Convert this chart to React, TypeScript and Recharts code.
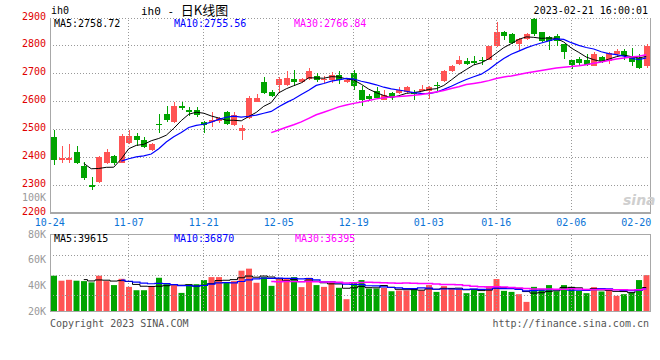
import { ComposedChart, Bar, Line, XAxis, YAxis, CartesianGrid, ReferenceLine, Cell } from 'recharts'

const MONO = '"DejaVu Sans Mono", "Liberation Mono", monospace'
const CJK = '"Noto Sans CJK SC", sans-serif'
const RED = '#ff5454'
const GREEN = '#00a400'
const GRID = '#999999'
const FRAME = '#a8a8a8'

// trading days (MM-DD), 2022-10-24 .. 2023-02-20
const dates = [
    '10-24', '10-25', '10-26', '10-27', '10-28', '10-31',
    '11-01', '11-02', '11-03', '11-04', '11-07', '11-08', '11-09', '11-10', '11-11',
    '11-14', '11-15', '11-16', '11-17', '11-18', '11-21', '11-22', '11-23', '11-24', '11-25',
    '11-28', '11-29', '11-30',
    '12-01', '12-02', '12-05', '12-06', '12-07', '12-08', '12-09', '12-12', '12-13', '12-14',
    '12-15', '12-16', '12-19', '12-20', '12-21', '12-22', '12-23', '12-26', '12-27', '12-28',
    '12-29', '12-30',
    '01-03', '01-04', '01-05', '01-06', '01-09', '01-10', '01-11', '01-12', '01-13', '01-16',
    '01-17', '01-18', '01-19', '01-20', '01-30', '01-31',
    '02-01', '02-02', '02-03', '02-06', '02-07', '02-08', '02-09', '02-10', '02-13', '02-14',
    '02-15', '02-16', '02-17', '02-20',
]

const open = [
    2474, 2389, 2391, 2420, 2369, 2301, 2310, 2381, 2405, 2381,
    2450, 2477, 2463, 2425, 2521, 2556, 2528, 2583, 2568, 2571,
    2528, 2525, 2530, 2561, 2517, 2493, 2541, 2597, 2669, 2633,
    2660, 2661, 2682, 2670, 2681, 2693, 2676, 2676, 2697, 2669,
    2703, 2643, 2619, 2638, 2607, 2631, 2631, 2634, 2634, 2639,
    2637, 2659, 2673, 2709, 2736, 2747, 2744, 2750, 2751, 2799,
    2849, 2841, 2807, 2823, 2896, 2849, 2832, 2837, 2805, 2748,
    2753, 2748, 2729, 2760, 2745, 2772, 2783, 2760, 2757, 2727,
]
const high = [
    2499, 2439, 2447, 2441, 2383, 2329, 2405, 2430, 2409, 2483,
    2497, 2488, 2473, 2453, 2556, 2585, 2598, 2600, 2580, 2580,
    2531, 2562, 2545, 2566, 2563, 2517, 2619, 2628, 2688, 2643,
    2688, 2708, 2715, 2686, 2721, 2703, 2693, 2705, 2708, 2685,
    2715, 2655, 2628, 2652, 2643, 2634, 2652, 2657, 2640, 2661,
    2655, 2670, 2712, 2733, 2763, 2757, 2765, 2759, 2801, 2885,
    2853, 2847, 2829, 2847, 2899, 2851, 2835, 2841, 2807, 2751,
    2759, 2769, 2777, 2763, 2778, 2787, 2787, 2793, 2769, 2805,
]
const low = [
    2374, 2379, 2381, 2375, 2320, 2281, 2308, 2375, 2371, 2379,
    2449, 2441, 2434, 2421, 2487, 2528, 2524, 2571, 2549, 2545,
    2487, 2509, 2523, 2516, 2513, 2461, 2537, 2597, 2628, 2615,
    2633, 2657, 2657, 2667, 2679, 2669, 2667, 2667, 2664, 2667,
    2643, 2585, 2607, 2610, 2605, 2607, 2627, 2631, 2607, 2637,
    2609, 2637, 2670, 2705, 2733, 2733, 2733, 2733, 2748, 2796,
    2820, 2808, 2784, 2820, 2837, 2813, 2784, 2799, 2753, 2717,
    2729, 2729, 2727, 2739, 2736, 2763, 2751, 2727, 2718, 2721,
]
const close = [
    2389, 2396, 2399, 2379, 2327, 2293, 2401, 2420, 2381, 2475,
    2477, 2461, 2438, 2446, 2516, 2535, 2585, 2576, 2561, 2552,
    2517, 2535, 2540, 2521, 2552, 2506, 2613, 2614, 2630, 2619,
    2681, 2686, 2669, 2681, 2711, 2676, 2682, 2697, 2676, 2676,
    2655, 2607, 2609, 2613, 2625, 2615, 2643, 2651, 2628, 2645,
    2651, 2656, 2709, 2727, 2748, 2735, 2739, 2746, 2799, 2849,
    2835, 2811, 2823, 2843, 2841, 2817, 2817, 2817, 2777, 2733,
    2739, 2733, 2769, 2745, 2775, 2783, 2763, 2741, 2721, 2801,
]
const volume = [
    47500, 43600, 44300, 43600, 43300, 42300, 47500, 43300, 40200, 45100,
    38800, 36200, 36200, 39400, 45900, 40900, 40200, 34100, 40900, 40900,
    44100, 46400, 46400, 42000, 43300, 51400, 53000, 42000, 46400, 39600,
    44900, 44900, 46400, 38600, 45900, 40200, 38800, 42300, 38100, 29200,
    42000, 44100, 37500, 37500, 38100, 35400, 36000, 36000, 37800, 36000,
    40200, 34900, 39400, 37500, 37000, 33900, 37000, 34100, 39400, 44900,
    35700, 34900, 33100, 27100, 38800, 37300, 40200, 35400, 40200, 38800,
    35700, 33900, 38600, 35200, 37000, 31800, 33100, 34400, 44100, 48000,
]

const xTicks = ['10-24', '11-07', '11-21', '12-05', '12-19', '01-03', '01-16', '02-06', '02-20']
const gridDates = xTicks.slice(1, -1)
const priceTicks = [2200, 2300, 2400, 2500, 2600, 2700, 2800, 2900]
const volTicks = [20000, 40000, 60000, 80000]
const volGridLines = [31900, 47500, 63100]

// values printed in the legends
const priceMaText = ['2758.72', '2755.56', '2766.84']
const volMaText = ['39615', '36870', '36395']

function movingAvg(values: number[], n: number) {
    return values.map((_, i) => {
        if (i < n - 1) return null
        let sum = 0
        for (let j = i - n + 1; j <= i; j++) sum += values[j]
        return sum / n
    })
}

const ma5 = movingAvg(close, 5)
const ma10 = movingAvg(close, 10)
const ma30 = movingAvg(close, 30)
const vma5 = movingAvg(volume, 5)
const vma10 = movingAvg(volume, 10)
const vma30 = movingAvg(volume, 30)

const chartData = dates.map((date, i) => ({
    date,
    open: open[i],
    high: high[i],
    low: low[i],
    close: close[i],
    vol: volume[i],
    ma5: ma5[i],
    ma10: ma10[i],
    ma30: ma30[i],
    vma5: vma5[i],
    vma10: vma10[i],
    vma30: vma30[i],
}))

// dotted grid line snapped to the pixel grid so the dots stay sharp
const DottedLine = (p: any) => {
    const snap = (v: number) => Math.floor(v) + 0.5
    const vertical = Math.abs(p.x1 - p.x2) < 0.01
    const x1 = vertical ? snap(p.x1) : p.x1
    const x2 = vertical ? snap(p.x2) : p.x2
    const y1 = vertical ? p.y1 : snap(p.y1)
    const y2 = vertical ? p.y2 : snap(p.y2)
    return <line x1={x1} y1={y1} x2={x2} y2={y2} stroke={GRID} strokeWidth={1} strokeDasharray="1 2" />
}

const Candle = (props: any) => {
    const { x, y, width, height, payload } = props
    if (!payload) return null
    const color = payload.close >= payload.open ? RED : GREEN
    const top = Math.min(y, y + height)
    const span = Math.abs(height)
    const k = span / (payload.high - payload.low)
    const yOpen = top + (payload.high - payload.open) * k
    const yClose = top + (payload.high - payload.close) * k
    const bx = Math.round(x)
    const cx = bx + Math.floor(width / 2) + 0.5
    return (
        <g shapeRendering="crispEdges">
            <line x1={cx} x2={cx} y1={top} y2={top + span} stroke={color} strokeWidth={1} />
            <rect x={bx} y={Math.min(yOpen, yClose)} width={Math.round(width)}
                height={Math.max(1, Math.abs(yOpen - yClose))} fill={color} />
        </g>
    )
}

const PriceTick = ({ x, y, payload }: any) => (
    <text x={x - 4} y={y - 2} textAnchor="end" dominantBaseline="central"
        fill="#e00000" fontSize={10} fontFamily={MONO}>{payload.value}</text>
)

const VolTick = ({ x, y, payload }: any) => (
    <text x={x - 4} y={y} textAnchor="end" dominantBaseline="central"
        fill="#999" fontSize={10} fontFamily={MONO}>{payload.value / 1000}K</text>
)

const DateTick = ({ x, y, payload }: any) => {
    let dx = 0
    if (payload.value === xTicks[0]) dx = -4
    if (payload.value === xTicks[xTicks.length - 1]) dx = -10
    return (
        <text x={x + dx} y={y + 9} textAnchor="middle" dominantBaseline="central"
            fill="#0b74d6" fontSize={10} fontFamily={MONO}>{payload.value}</text>
    )
}

const txt = (left: number, top: number, color: string, s: string, extra: any = {}) => (
    <div style={{
        position: 'absolute', left, top, fontSize: 10, lineHeight: '12px', color,
        fontFamily: MONO, whiteSpace: 'pre', ...extra
    }}>{s}</div>
)

export default function App() {
    return (
        <div style={{ position: 'absolute', left: 0, top: 0, width: 660, height: 360, background: '#fff', overflow: 'hidden' }}>
            {/* price panel */}
            <div style={{ position: 'absolute', left: 0, top: 0 }}>
                <ComposedChart width={660} height={230} data={chartData}
                    margin={{ top: 18, right: 10, bottom: 0, left: 0 }}>
                    <CartesianGrid vertical={false} horizontal={(p: any) => <DottedLine key={p.key} {...p} />} />
                    {gridDates.map(d => (
                        <ReferenceLine key={d} x={d} shape={(p: any) => <DottedLine {...p} />} />
                    ))}
                    <XAxis dataKey="date" ticks={xTicks} interval={0} height={17}
                        tickLine={false} axisLine={false} tickSize={0} tickMargin={0} tick={<DateTick />} />
                    <YAxis domain={[2200, 2900]} ticks={priceTicks} interval={0} allowDataOverflow width={50}
                        tickLine={false} axisLine={false} tickSize={0} tickMargin={0} tick={<PriceTick />} />
                    <Bar dataKey={(d: any) => [d.low, d.high]} barSize={6} shape={<Candle />}
                        isAnimationActive={false} />
                    <Line dataKey="ma5" stroke="#000000" strokeWidth={1} dot={false} isAnimationActive={false} />
                    <Line dataKey="ma10" stroke="#0000ff" strokeWidth={1.2} dot={false} isAnimationActive={false} />
                    <Line dataKey="ma30" stroke="#ff00ff" strokeWidth={1.5} dot={false} isAnimationActive={false} />
                </ComposedChart>
            </div>

            {/* volume panel */}
            <div style={{ position: 'absolute', left: 0, top: 230 }}>
                <ComposedChart width={660} height={90} data={chartData}
                    margin={{ top: 4, right: 10, bottom: 8, left: 0 }}>
                    {gridDates.map(d => (
                        <ReferenceLine key={d} x={d} shape={(p: any) => <DottedLine {...p} />} />
                    ))}
                    {volGridLines.map(v => (
                        <ReferenceLine key={v} y={v} shape={(p: any) => <DottedLine {...p} />} />
                    ))}
                    <XAxis dataKey="date" ticks={xTicks} interval={0} height={1}
                        tick={false} tickLine={false} axisLine={false} />
                    <YAxis domain={[20000, 80000]} ticks={volTicks} interval={0} allowDataOverflow width={50}
                        tickLine={false} axisLine={false} tickSize={0} tickMargin={0} tick={<VolTick />} />
                    <Bar dataKey="vol" barSize={6} isAnimationActive={false}>
                        {chartData.map((d, i) => (
                            <Cell key={i} fill={d.close >= d.open ? RED : GREEN} />
                        ))}
                    </Bar>
                    <Line type="step" dataKey="vma5" stroke="#000000" strokeWidth={1} dot={false} isAnimationActive={false} />
                    <Line type="step" dataKey="vma10" stroke="#0000ff" strokeWidth={1.2} dot={false} isAnimationActive={false} />
                    <Line type="step" dataKey="vma30" stroke="#ff00ff" strokeWidth={1.5} dot={false} isAnimationActive={false} />
                </ComposedChart>
            </div>

            {/* plot frames */}
            <div style={{
                position: 'absolute', left: 50, top: 18, width: 601, height: 196, boxSizing: 'border-box',
                borderLeft: `1px solid ${FRAME}`, borderRight: `1px solid ${FRAME}`, borderBottom: `2px solid ${FRAME}`
            }} />
            <div style={{
                position: 'absolute', left: 50, top: 234, width: 601, height: 78, boxSizing: 'border-box',
                border: `1px solid ${FRAME}`
            }} />

            {/* header */}
            {txt(51, 5, '#000', 'ih0')}
            <div style={{ position: 'absolute', left: 141, top: 3, height: 14, lineHeight: '14px', whiteSpace: 'pre', color: '#000' }}>
                <span style={{ fontFamily: MONO, fontSize: 11 }}>ih0 - </span>
                <span style={{ fontFamily: CJK, fontSize: 13 }}>日K线图</span>
            </div>
            {txt(448, 5, '#000', '2023-02-21 16:00:01', { width: 200, textAlign: 'right' })}

            {/* legends */}
            {txt(54, 18, '#000', `MA5:${priceMaText[0]}`)}
            {txt(174, 18, '#0000ff', `MA10:${priceMaText[1]}`)}
            {txt(294, 18, '#ff00ff', `MA30:${priceMaText[2]}`)}
            {txt(54, 233, '#000', `MA5:${volMaText[0]}`)}
            {txt(174, 233, '#0000ff', `MA10:${volMaText[1]}`)}
            {txt(295, 233, '#ff00ff', `MA30:${volMaText[2]}`)}

            {/* stray volume label above the volume panel */}
            {txt(0, 192, '#999', '100K', { width: 46, textAlign: 'right' })}

            {/* watermark */}
            <div style={{
                position: 'absolute', left: 623, top: 192, fontFamily: '"DejaVu Sans", sans-serif',
                fontSize: 14, fontWeight: 'bold', fontStyle: 'italic', color: '#cfcfcf'
            }}>sina</div>

            {/* footer */}
            {txt(50, 318, '#555', 'Copyright 2023 SINA.COM')}
            {txt(449, 318, '#555', 'http://finance.sina.com.cn', { width: 200, textAlign: 'right' })}
        </div>
    )
}
